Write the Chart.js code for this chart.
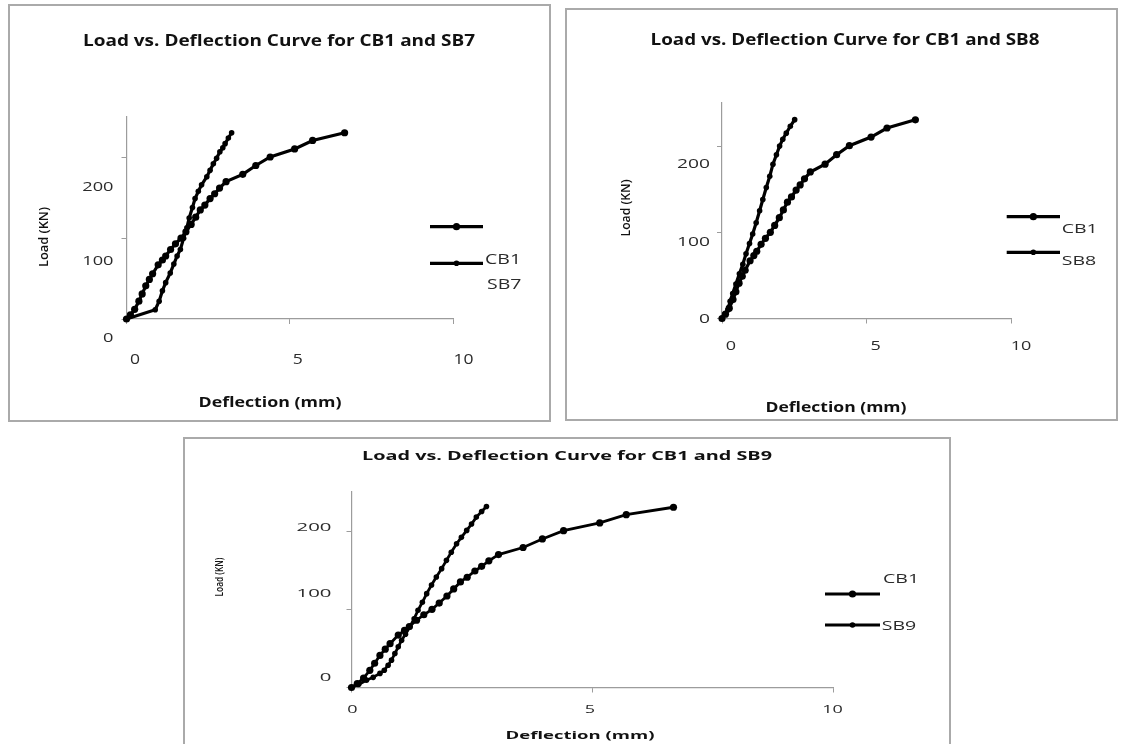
<!DOCTYPE html>
<html>
<head>
<meta charset="utf-8">
<script src="https://cdn.jsdelivr.net/npm/chart.js@4.4.1/dist/chart.umd.min.js"></script>
<style>
  html, body { margin: 0; padding: 0; background: #fff; width: 1121px; height: 744px; overflow: hidden; }
  .panel { position: absolute; box-sizing: border-box; border: 2px solid #aaa; background: #fff; }
  .panel canvas { position: absolute; left: 0; top: 0; }
</style>
</head>
<body>
<div class="panel" style="left:8px;top:4px;width:543px;height:418px"><canvas id="c1" width="539" height="414"></canvas></div>
<div class="panel" style="left:565px;top:8px;width:553px;height:413px"><canvas id="c2" width="549" height="409"></canvas></div>
<div class="panel" style="left:183px;top:437px;width:768px;height:320px"><canvas id="c3" width="764" height="316"></canvas></div>
<script>
// control beam, same test curve on all three plots
const cb1Deflection = [0, 0.12, 0.25, 0.38, 0.48, 0.59, 0.70, 0.80, 0.97, 1.10, 1.20, 1.35, 1.50, 1.67, 1.82, 1.98, 2.12, 2.26, 2.40, 2.56, 2.70, 2.85, 3.05, 3.56, 3.96, 4.40, 5.15, 5.70, 6.68];
const cb1Load       = [0, 5, 12, 22, 31, 41, 49, 56, 67, 73, 78, 86, 93, 100, 108, 117, 126, 135, 141, 149, 155, 162, 170, 179, 190, 200.5, 210.5, 221, 230.5];

const sb7Deflection = [0, 0.88, 1.00, 1.10, 1.20, 1.34, 1.45, 1.55, 1.65, 1.75, 1.85, 1.92, 2.02, 2.10, 2.20, 2.30, 2.46, 2.56, 2.66, 2.76, 2.86, 2.95, 3.02, 3.12, 3.22];
const sb7Load       = [0, 11.5, 22, 35, 45, 57, 68, 78, 86, 100, 113, 125, 138, 149, 158, 166, 176, 184, 192, 199, 207, 212, 217, 224, 230.5];

const sb8Deflection = [0, 0.10, 0.20, 0.28, 0.37, 0.48, 0.60, 0.72, 0.83, 0.95, 1.06, 1.18, 1.30, 1.41, 1.53, 1.65, 1.76, 1.88, 1.99, 2.10, 2.22, 2.36, 2.51];
const sb8Load       = [0, 5, 10, 20, 29, 40, 52, 63, 75, 87, 98, 111, 125, 138, 152, 165, 179, 190, 200, 208, 215, 223, 230.7];

const sb9Deflection = [0, 0.15, 0.31, 0.45, 0.59, 0.68, 0.76, 0.83, 0.90, 0.97, 1.04, 1.12, 1.21, 1.30, 1.38, 1.47, 1.56, 1.66, 1.76, 1.87, 1.97, 2.07, 2.18, 2.28, 2.39, 2.49, 2.59, 2.70, 2.80];
const sb9Load       = [0, 4, 9.4, 13, 18, 22, 28.5, 35, 43.4, 52, 60.4, 68, 77.4, 88, 98.7, 109, 120, 131, 141.3, 152, 162.6, 173, 183.8, 192, 200.9, 209, 217.9, 225, 231.5];

const xTickValues = [0, 5, 10];
const yTickValues = [0, 100, 200];
const xMax = 10;
const yMax = 250;

const toPoints = (xs, ys) => xs.map((x, i) => ({ x, y: ys[i] }));

// draws one string, optionally squeezed/stretched to a target width
function putText(ctx, t, text) {
  ctx.save();
  ctx.translate(t.x, t.y);
  if (t.rot) ctx.rotate(t.rot);
  ctx.font = t.font;
  let sx = t.sx || 1;
  if (t.w) sx = t.w / ctx.measureText(text).width;
  ctx.scale(sx, 1);
  ctx.fillStyle = t.color || '#111';
  ctx.textAlign = t.align || 'center';
  ctx.textBaseline = 'middle';
  ctx.fillText(text, 0, 0);
  ctx.restore();
}

// titles, tick labels and the legend, laid out like the spreadsheet export
const panelText = {
  id: 'panelText',
  afterDraw(chart, args, o) {
    const ctx = chart.ctx;
    const area = chart.chartArea;
    const xs = chart.scales.x, ys = chart.scales.y;

    putText(ctx, o.title, o.title.text);
    putText(ctx, o.xTitle, 'Deflection (mm)');
    putText(ctx, Object.assign({ rot: -Math.PI / 2 }, o.yTitle), 'Load (KN)');

    ys.ticks.forEach((t, i) => {
      putText(ctx, {
        x: area.left - o.yTicks.gap, y: ys.getPixelForValue(t.value) + o.yTicks.shift[i],
        font: o.yTicks.font, sx: o.yTicks.sx, align: 'right', color: '#2b2b2b'
      }, String(t.value));
    });
    xs.ticks.forEach((t, i) => {
      putText(ctx, {
        x: xs.getPixelForValue(t.value) + o.xTicks.shift[i], y: area.bottom + o.xTicks.dy,
        font: o.xTicks.font, sx: o.xTicks.sx, color: '#2b2b2b'
      }, String(t.value));
    });

    const lg = o.legend;
    chart.data.datasets.forEach((ds, i) => {
      const y = lg.lineY[i];
      ctx.save();
      ctx.strokeStyle = '#000';
      ctx.lineWidth = ds.borderWidth;
      ctx.beginPath();
      ctx.moveTo(lg.x1, y);
      ctx.lineTo(lg.x2, y);
      ctx.stroke();
      ctx.fillStyle = '#000';
      ctx.beginPath();
      ctx.arc((lg.x1 + lg.x2) / 2, y, ds.pointRadius, 0, Math.PI * 2);
      ctx.fill();
      ctx.restore();
      putText(ctx, { x: lg.textX[i], y: lg.textY[i], font: lg.font, sx: lg.sx, align: 'left', color: '#2b2b2b' }, ds.label);
    });
  }
};

function axis(max, ticks, size) {
  return {
    type: 'linear',
    min: 0,
    max: max,
    afterBuildTicks: s => { s.ticks = ticks.map(v => ({ value: v })); },
    afterFit: s => { if (s.isHorizontal()) s.height = size; else s.width = size; },
    ticks: { display: false },
    grid: { drawOnChartArea: false, drawTicks: true, tickLength: 5, color: '#9c9c9c', lineWidth: 1 },
    border: { display: true, color: '#9c9c9c', width: 1.2 }
  };
}

function makeChart(id, sbLabel, sbDefl, sbLoad, cfg) {
  new Chart(document.getElementById(id), {
    type: 'scatter',
    data: {
      datasets: [
        {
          label: 'CB1',
          data: toPoints(cb1Deflection, cb1Load),
          showLine: true,
          borderColor: '#000',
          backgroundColor: '#000',
          borderWidth: cfg.lineWidth,
          pointRadius: 3.6,
          pointBorderWidth: 0,
          clip: false
        },
        {
          label: sbLabel,
          data: toPoints(sbDefl, sbLoad),
          showLine: true,
          borderColor: '#000',
          backgroundColor: '#000',
          borderWidth: cfg.lineWidth,
          pointRadius: 2.8,
          pointBorderWidth: 0,
          clip: false
        }
      ]
    },
    options: {
      responsive: false,
      animation: false,
      events: [],
      layout: { autoPadding: false, padding: cfg.padding },
      scales: {
        x: axis(xMax, xTickValues, 50),
        y: axis(yMax, yTickValues, 60)
      },
      plugins: {
        legend: { display: false },
        tooltip: { enabled: false },
        panelText: cfg.text
      }
    },
    plugins: [panelText]
  });
}

makeChart('c1', 'SB7', sb7Deflection, sb7Load, {
  lineWidth: 3.2,
  padding: { left: 56.5, right: 96, top: 111, bottom: 51 },
  text: {
    title: { text: 'Load vs. Deflection Curve for CB1 and SB7', x: 269, y: 35, font: 'bold 16px "Open Sans"', w: 392 },
    xTitle: { x: 260, y: 397, font: 'bold 14px "Open Sans"', w: 143 },
    yTitle: { x: 34.5, y: 231, font: '600 12px "Open Sans"', w: 60 },
    yTicks: { font: '500 13px "Open Sans"', sx: 1.4, gap: 13, shift: [19.5, 23.5, 30] },
    xTicks: { font: '500 14px "Open Sans"', sx: 1.25, dy: 41, shift: [8.5, 8, 10.5] },
    legend: { font: '500 15px "Open Sans"', sx: 1.3, x1: 420, x2: 473, lineY: [220.7, 257.3], textX: [475, 477], textY: [254, 279] }
  }
});

makeChart('c2', 'SB8', sb8Deflection, sb8Load, {
  lineWidth: 3.2,
  padding: { left: 95, right: 104.5, top: 93, bottom: 50.5 },
  text: {
    title: { text: 'Load vs. Deflection Curve for CB1 and SB8', x: 278, y: 30, font: 'bold 16px "Open Sans"', w: 389 },
    xTitle: { x: 269, y: 398, font: 'bold 14px "Open Sans"', w: 141 },
    yTitle: { x: 60, y: 198, font: '600 12px "Open Sans"', w: 57 },
    yTicks: { font: '500 12px "Open Sans"', sx: 1.6, gap: 12, shift: [1.5, 10, 18] },
    xTicks: { font: '500 12px "Open Sans"', sx: 1.5, dy: 28.5, shift: [9, 9, 9.5] },
    legend: { font: '500 13px "Open Sans"', sx: 1.5, x1: 439.7, x2: 493, lineY: [206.7, 242.3], textX: [494.7, 494.7], textY: [219.3, 251.7] }
  }
});

makeChart('c3', 'SB9', sb9Deflection, sb9Load, {
  lineWidth: 2.8,
  padding: { left: 106.5, right: 115.5, top: 53, bottom: 17.5 },
  text: {
    title: { text: 'Load vs. Deflection Curve for CB1 and SB9', x: 382, y: 17, font: 'bold 13px "Open Sans"', w: 410 },
    xTitle: { x: 395, y: 297, font: 'bold 11px "Open Sans"', w: 149 },
    yTitle: { x: 35, y: 138, font: '600 11px "Open Sans"', w: 39 },
    yTicks: { font: '500 11px "Open Sans"', sx: 1.85, gap: 20, shift: [-10, -15, -3.3] },
    xTicks: { font: '500 10px "Open Sans"', sx: 1.8, dy: 22.5, shift: [1, -2.5, -1] },
    legend: { font: '500 13px "Open Sans"', sx: 1.5, x1: 640, x2: 695, lineY: [155, 186], textX: [698, 696.7], textY: [140.3, 187.7] }
  }
});
</script>
</body>
</html>
